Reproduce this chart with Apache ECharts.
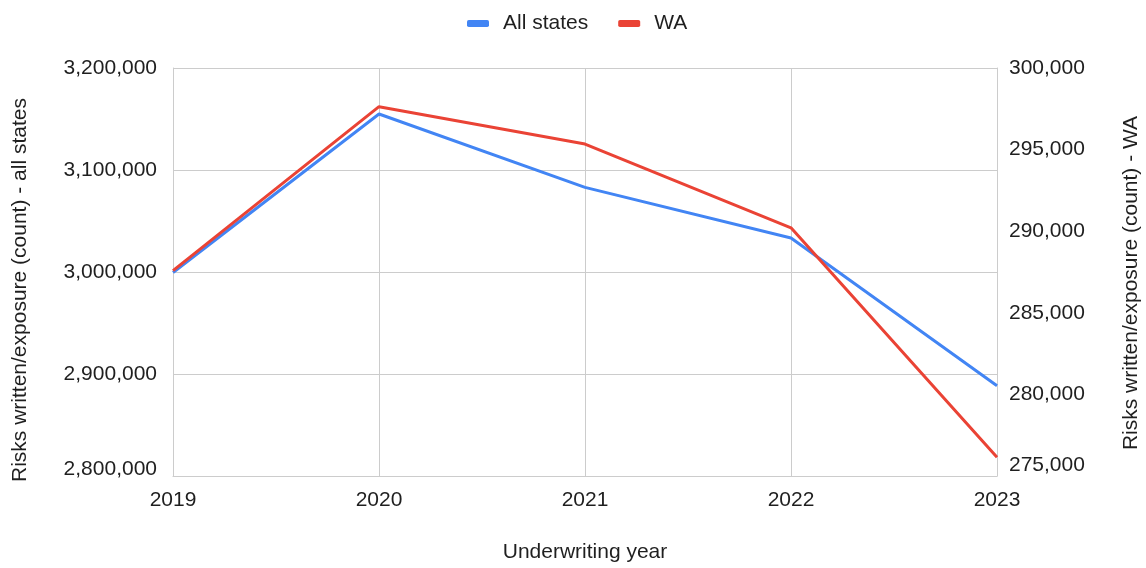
<!DOCTYPE html>
<html>
<head>
<meta charset="utf-8">
<title>Risks written/exposure by underwriting year</title>
<script src="https://cdn.jsdelivr.net/npm/echarts@6/dist/echarts.min.js"></script>
<style>
  html, body { margin: 0; padding: 0; background: #ffffff; }
  #chart { width: 1146px; height: 568px; }
</style>
</head>
<body>
<div id="chart"></div>
<script>
// Underwriting years on the category axis
const years = ['2019', '2020', '2021', '2022', '2023'];

// Risks written / exposure (count)
const allStates = [2999500, 3154900, 3083000, 3033300, 2888500];
const wa = [287580, 297630, 295340, 290210, 276150];

// Axis ranges
const leftAxis = { min: 2800000, max: 3200000, interval: 100000 };
const rightAxis = { min: 275000, max: 300000, interval: 5000 };

const FONT = '"Liberation Sans", Arial, sans-serif';
const SIZE = 21;
const TEXT = '#1f1f1f';
const GRID_LINE = '#cccccc';
const fmt = v => Number(v).toLocaleString('en-US');

// The lowest tick label sits a little above the baseline so it clears the year labels
const yLabel = axis => v => (v === axis.min ? '{low|' + fmt(v) + '}' : fmt(v));

const chart = echarts.init(document.getElementById('chart'), null, { renderer: 'canvas' });

chart.setOption({
  animation: false,
  backgroundColor: '#ffffff',
  textStyle: { fontFamily: FONT },
  color: ['#4285f4', '#ea4335'],
  legend: {
    top: 8,
    left: 462,
    itemWidth: 22,
    itemHeight: 7,
    itemGap: 30,
    icon: 'roundRect',
    textStyle: { fontSize: SIZE, color: TEXT, fontFamily: FONT, padding: [0, 0, 0, 9] },
    data: ['All states', 'WA']
  },
  grid: { left: 173, right: 149, top: 68, bottom: 92, containLabel: false },
  xAxis: {
    type: 'category',
    data: years,
    boundaryGap: false,
    name: 'Underwriting year',
    nameLocation: 'middle',
    nameGap: 66,
    nameTextStyle: { fontSize: SIZE, color: TEXT, fontFamily: FONT },
    axisLine: { show: true, lineStyle: { color: GRID_LINE, width: 1 } },
    axisTick: { show: false },
    axisLabel: { fontSize: SIZE, color: TEXT, fontFamily: FONT, margin: 14 },
    splitLine: { show: true, lineStyle: { color: GRID_LINE, width: 1 } }
  },
  yAxis: [
    {
      type: 'value',
      position: 'left',
      min: leftAxis.min,
      max: leftAxis.max,
      interval: leftAxis.interval,
      axisLine: { show: true, lineStyle: { color: GRID_LINE, width: 1 } },
      axisTick: { show: false },
      axisLabel: {
        fontSize: SIZE, color: TEXT, fontFamily: FONT, margin: 16,
        formatter: yLabel(leftAxis),
        rich: { low: { fontSize: SIZE, color: TEXT, fontFamily: FONT, padding: [0, 0, 14, 0] } }
      },
      splitLine: { show: true, lineStyle: { color: GRID_LINE, width: 1 } }
    },
    {
      type: 'value',
      position: 'right',
      min: rightAxis.min,
      max: rightAxis.max,
      interval: rightAxis.interval,
      axisLine: { show: true, lineStyle: { color: GRID_LINE, width: 1 } },
      axisTick: { show: false },
      axisLabel: {
        fontSize: SIZE, color: TEXT, fontFamily: FONT, margin: 12,
        formatter: yLabel(rightAxis),
        rich: { low: { fontSize: SIZE, color: TEXT, fontFamily: FONT, padding: [0, 0, 22, 0] } }
      },
      splitLine: { show: false }
    }
  ],
  graphic: [
    {
      type: 'text',
      x: 20,
      y: 290,
      rotation: Math.PI / 2,
      style: {
        text: 'Risks written/exposure (count) - all states',
        font: SIZE + 'px ' + FONT,
        fill: TEXT,
        textAlign: 'center',
        textVerticalAlign: 'middle'
      }
    },
    {
      type: 'text',
      x: 1131,
      y: 283,
      rotation: Math.PI / 2,
      style: {
        text: 'Risks written/exposure (count) - WA',
        font: SIZE + 'px ' + FONT,
        fill: TEXT,
        textAlign: 'center',
        textVerticalAlign: 'middle'
      }
    }
  ],
  series: [
    {
      name: 'All states',
      type: 'line',
      yAxisIndex: 0,
      data: allStates,
      showSymbol: false,
      symbol: 'none',
      lineStyle: { width: 3, color: '#4285f4' }
    },
    {
      name: 'WA',
      type: 'line',
      yAxisIndex: 1,
      data: wa,
      showSymbol: false,
      symbol: 'none',
      lineStyle: { width: 3, color: '#ea4335' }
    }
  ]
});
</script>
</body>
</html>
